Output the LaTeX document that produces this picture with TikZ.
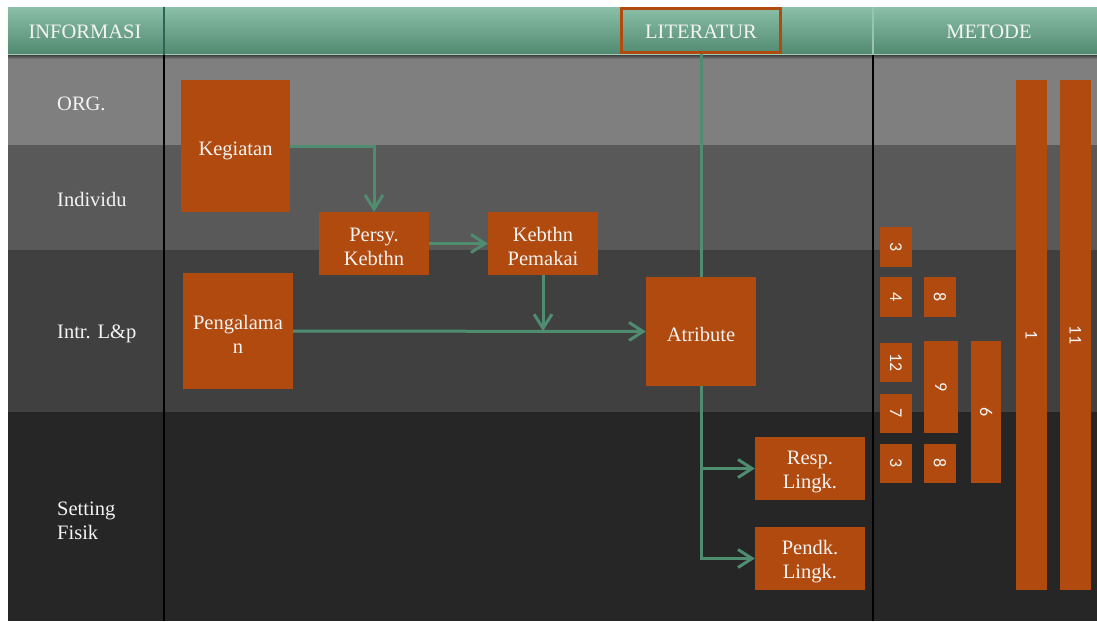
\documentclass[tikz,border=0pt]{standalone}
\usepackage{fontspec}
\setmainfont{Liberation Serif}
\newfontfamily\numfont{Carlito}
\usetikzlibrary{arrows.meta}

\definecolor{hdrtop}{HTML}{8BBFA8}
\definecolor{hdrbot}{HTML}{50896F}
\definecolor{bandA}{HTML}{7F7F7F}
\definecolor{bandB}{HTML}{595959}
\definecolor{bandC}{HTML}{404040}
\definecolor{bandD}{HTML}{262626}
\definecolor{rust}{HTML}{B04A0E}
\definecolor{link}{HTML}{4F8C70}
\definecolor{txt}{HTML}{F4F4F4}
\definecolor{hdrline}{HTML}{2D6455}

\tikzset{
  txtfont/.style={font=\fontsize{20.5}{24}\selectfont},
  boxtxt/.style={text=txt, align=center, inner sep=0pt, txtfont, yshift=-3pt},
  obox/.style={fill=rust, draw=none, inner sep=0pt},
  numbox/.style={fill=rust, draw=none, text=txt, inner sep=0pt, font=\numfont\fontsize{18}{20}\selectfont},
  rowlbl/.style={anchor=west, text=txt, align=left, inner sep=0pt, txtfont},
  hdrlbl/.style={text=txt, inner sep=0pt, txtfont},
  conn/.style={draw=link, line width=3pt},
  arr/.style={conn, -{Straight Barb[length=14pt,width=18pt]}},
  sep/.style={draw=black, line width=2pt}
}

\begin{document}
\begin{tikzpicture}[x=1pt, y=-1pt]
  % canvas
  \fill[white] (0,0) rectangle (1097,621);
  \useasboundingbox (0,0) rectangle (1097,621);

  % horizontal bands
  \fill[bandA] (8,55) rectangle (1097,145);
  \fill[bandB] (8,145) rectangle (1097,250);
  \fill[bandC] (8,250) rectangle (1097,412);
  \fill[bandD] (8,412) rectangle (1097,621);

  % header strip
  \shade[top color=hdrtop, bottom color=hdrbot] (8,7) rectangle (1097,55);
  \draw[hdrtop!80!white, line width=0.8pt] (8,54.6) -- (1097,54.6);
  \shade[top color=black!75, bottom color=bandA] (8,55) rectangle (1097,59);
  \draw[draw=hdrline, line width=1.2pt] (164,7) -- (164,55);
  \draw[draw=hdrtop!90!white, line width=1.2pt] (873,7) -- (873,55);

  % column separators
  \draw[sep] (164,55) -- (164,621);
  \draw[sep] (873,55) -- (873,621);

  % header labels
  \node[hdrlbl] (hinfo) at (85,32) {INFORMASI};
  \node[hdrlbl] (hmet) at (989,32) {METODE};
  \node[draw=rust, line width=3pt, minimum width=159pt, minimum height=44pt,
        inner sep=0pt, label={[hdrlbl,yshift=-2pt]center:LITERATUR}] (lit) at (701,30) {};

  % row labels
  \node[rowlbl] (rorg) at (57,103.5) {ORG.};
  \node[rowlbl] (rind) at (57,199.5) {Individu};
  \node[rowlbl] (rint) at (57,334) {Intr. L\&p};
  \node[rowlbl] (rset) at (57,521) {Setting\\Fisik};

  % process boxes
  \node[obox, minimum width=109pt, minimum height=132pt,
        label={[boxtxt,yshift=-1.5pt]center:Kegiatan}] (keg) at (235.5,146) {};
  \node[obox, minimum width=110pt, minimum height=63pt,
        label={[boxtxt]center:Persy.\\Kebthn}] (persy) at (374,243.5) {};
  \node[obox, minimum width=110pt, minimum height=63pt,
        label={[boxtxt]center:Kebthn\\Pemakai}] (keb) at (543,243.5) {};
  \node[obox, minimum width=110pt, minimum height=116pt,
        label={[boxtxt]center:Pengalama\\n}] (peng) at (238,331) {};
  \node[obox, minimum width=110pt, minimum height=109pt,
        label={[boxtxt]center:Atribute}] (atr) at (701,331.5) {};
  \node[obox, minimum width=110pt, minimum height=63pt,
        label={[boxtxt]center:Resp.\\Lingk.}] (resp) at (810,468.5) {};
  \node[obox, minimum width=110pt, minimum height=63pt,
        label={[boxtxt]center:Pendk.\\Lingk.}] (pend) at (810,558.5) {};

  % method bars
  \node[numbox, minimum width=32pt, minimum height=40pt] (m3a) at (896,247) {\rotatebox{-90}{3}};
  \node[numbox, minimum width=32pt, minimum height=40pt] (m4) at (896,297) {\rotatebox{-90}{4}};
  \node[numbox, minimum width=32pt, minimum height=40pt] (m8a) at (940,297) {\rotatebox{-90}{8}};
  \node[numbox, minimum width=32pt, minimum height=39pt] (m12) at (896,362.5) {\rotatebox{-90}{12}};
  \node[numbox, minimum width=34pt, minimum height=92pt] (m9) at (941,387) {\rotatebox{-90}{9}};
  \node[numbox, minimum width=32pt, minimum height=39pt] (m7) at (896,413.5) {\rotatebox{-90}{7}};
  \node[numbox, minimum width=32pt, minimum height=39pt] (m3b) at (896,463.5) {\rotatebox{-90}{3}};
  \node[numbox, minimum width=32pt, minimum height=39pt] (m8b) at (940,463.5) {\rotatebox{-90}{8}};
  \node[numbox, minimum width=30pt, minimum height=142pt] (m6) at (986,412) {\rotatebox{-90}{6}};
  \node[numbox, minimum width=31pt, minimum height=510pt] (m1) at (1031.5,335) {\rotatebox{-90}{1}};
  \node[numbox, minimum width=31pt, minimum height=510pt] (m11) at (1075.5,335) {\rotatebox{-90}{11}};

  % connectors
  \draw[arr] (keg.east) -| (persy.north);
  \draw[arr] (persy.east) -- (keb.west);
  \draw[arr] (peng.east) -- (atr.west);
  \draw[arr] (keb.south) -- (keb.south |- peng.east);
  \draw[conn] (lit.south) -- (atr.north);
  \draw[arr] (atr.south) |- (resp.west);
  \draw[arr] (atr.south) |- (pend.west);
\end{tikzpicture}
\end{document}
